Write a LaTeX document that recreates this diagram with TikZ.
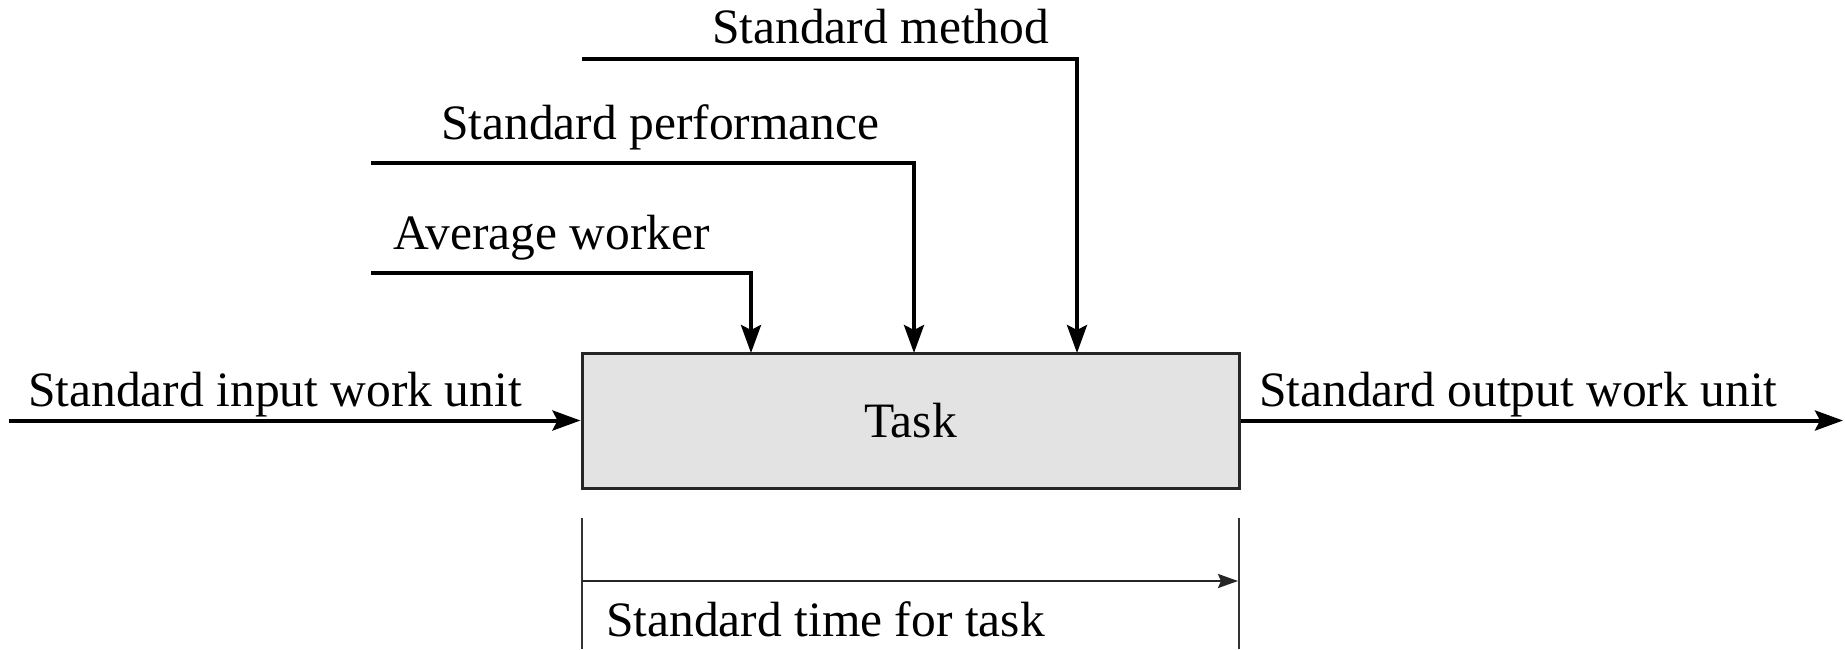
\documentclass[tikz,border=0pt]{standalone}
\usepackage{fontspec}
\setmainfont{Liberation Serif}
\usetikzlibrary{arrows.meta,calc}
\begin{document}
\begin{tikzpicture}[x=1pt,y=-1pt,
  lbl/.style={font=\fontsize{49.5}{55}\selectfont, inner sep=0pt, anchor=base west},
  flow/.style={line width=4pt, -{Stealth[length=28pt,width=20pt,inset=5pt]}},
  taskbox/.style={draw=black!85, fill=black!11, line width=3pt, minimum width=657pt, minimum height=135pt, font=\fontsize{49.5}{55}\selectfont, inner sep=0pt},
  guide/.style={line width=2pt, draw=black!80},
  span/.style={line width=2.5pt, draw=black!85, -{Stealth[length=20pt,width=14pt,inset=3pt]}}]
\useasboundingbox (0,0) rectangle (1845,649);
\fill[white] (0,0) rectangle (1845,649);

\node[taskbox] (task) at (910.5,420.5) {Task};

% control inputs
\coordinate (mS) at (582,59);
\coordinate (pS) at (371,163);
\coordinate (aS) at (371,273);
\coordinate (a1) at (751,353);
\coordinate (p1) at (914,353);
\coordinate (m1) at (1077,353);
\draw[flow] (aS) -| (a1);
\draw[flow] (pS) -| (p1);
\draw[flow] (mS) -| (m1);

\node[lbl] (lm) at (712,43) {Standard method};
\node[lbl] (lp) at (441,139) {Standard performance};
\node[lbl] (la) at (393,249) {Average worker};

% input / output
\coordinate (in) at (9,420.5);
\coordinate (out) at (1843,420.5);
\draw[flow] (in) -- (task.west);
\draw[flow] (task.east) -- (out);
\node[lbl] (lin) at (28,406) {Standard input work unit};
\node[lbl] (lout) at (1259,406) {Standard output work unit};

% time span
\coordinate (bl1) at (582,518);
\coordinate (bl2) at (582,649);
\coordinate (br1) at (1239,518);
\coordinate (br2) at (1239,649);
\draw[guide] (bl1) -- (bl2);
\draw[guide] (br1) -- (br2);
\coordinate (tl) at (582,581);
\coordinate (tr) at (1238,581);
\draw[span] (tl) -- (tr);
\node[lbl] (lt) at (606,636) {Standard time for task};
\end{tikzpicture}
\end{document}
